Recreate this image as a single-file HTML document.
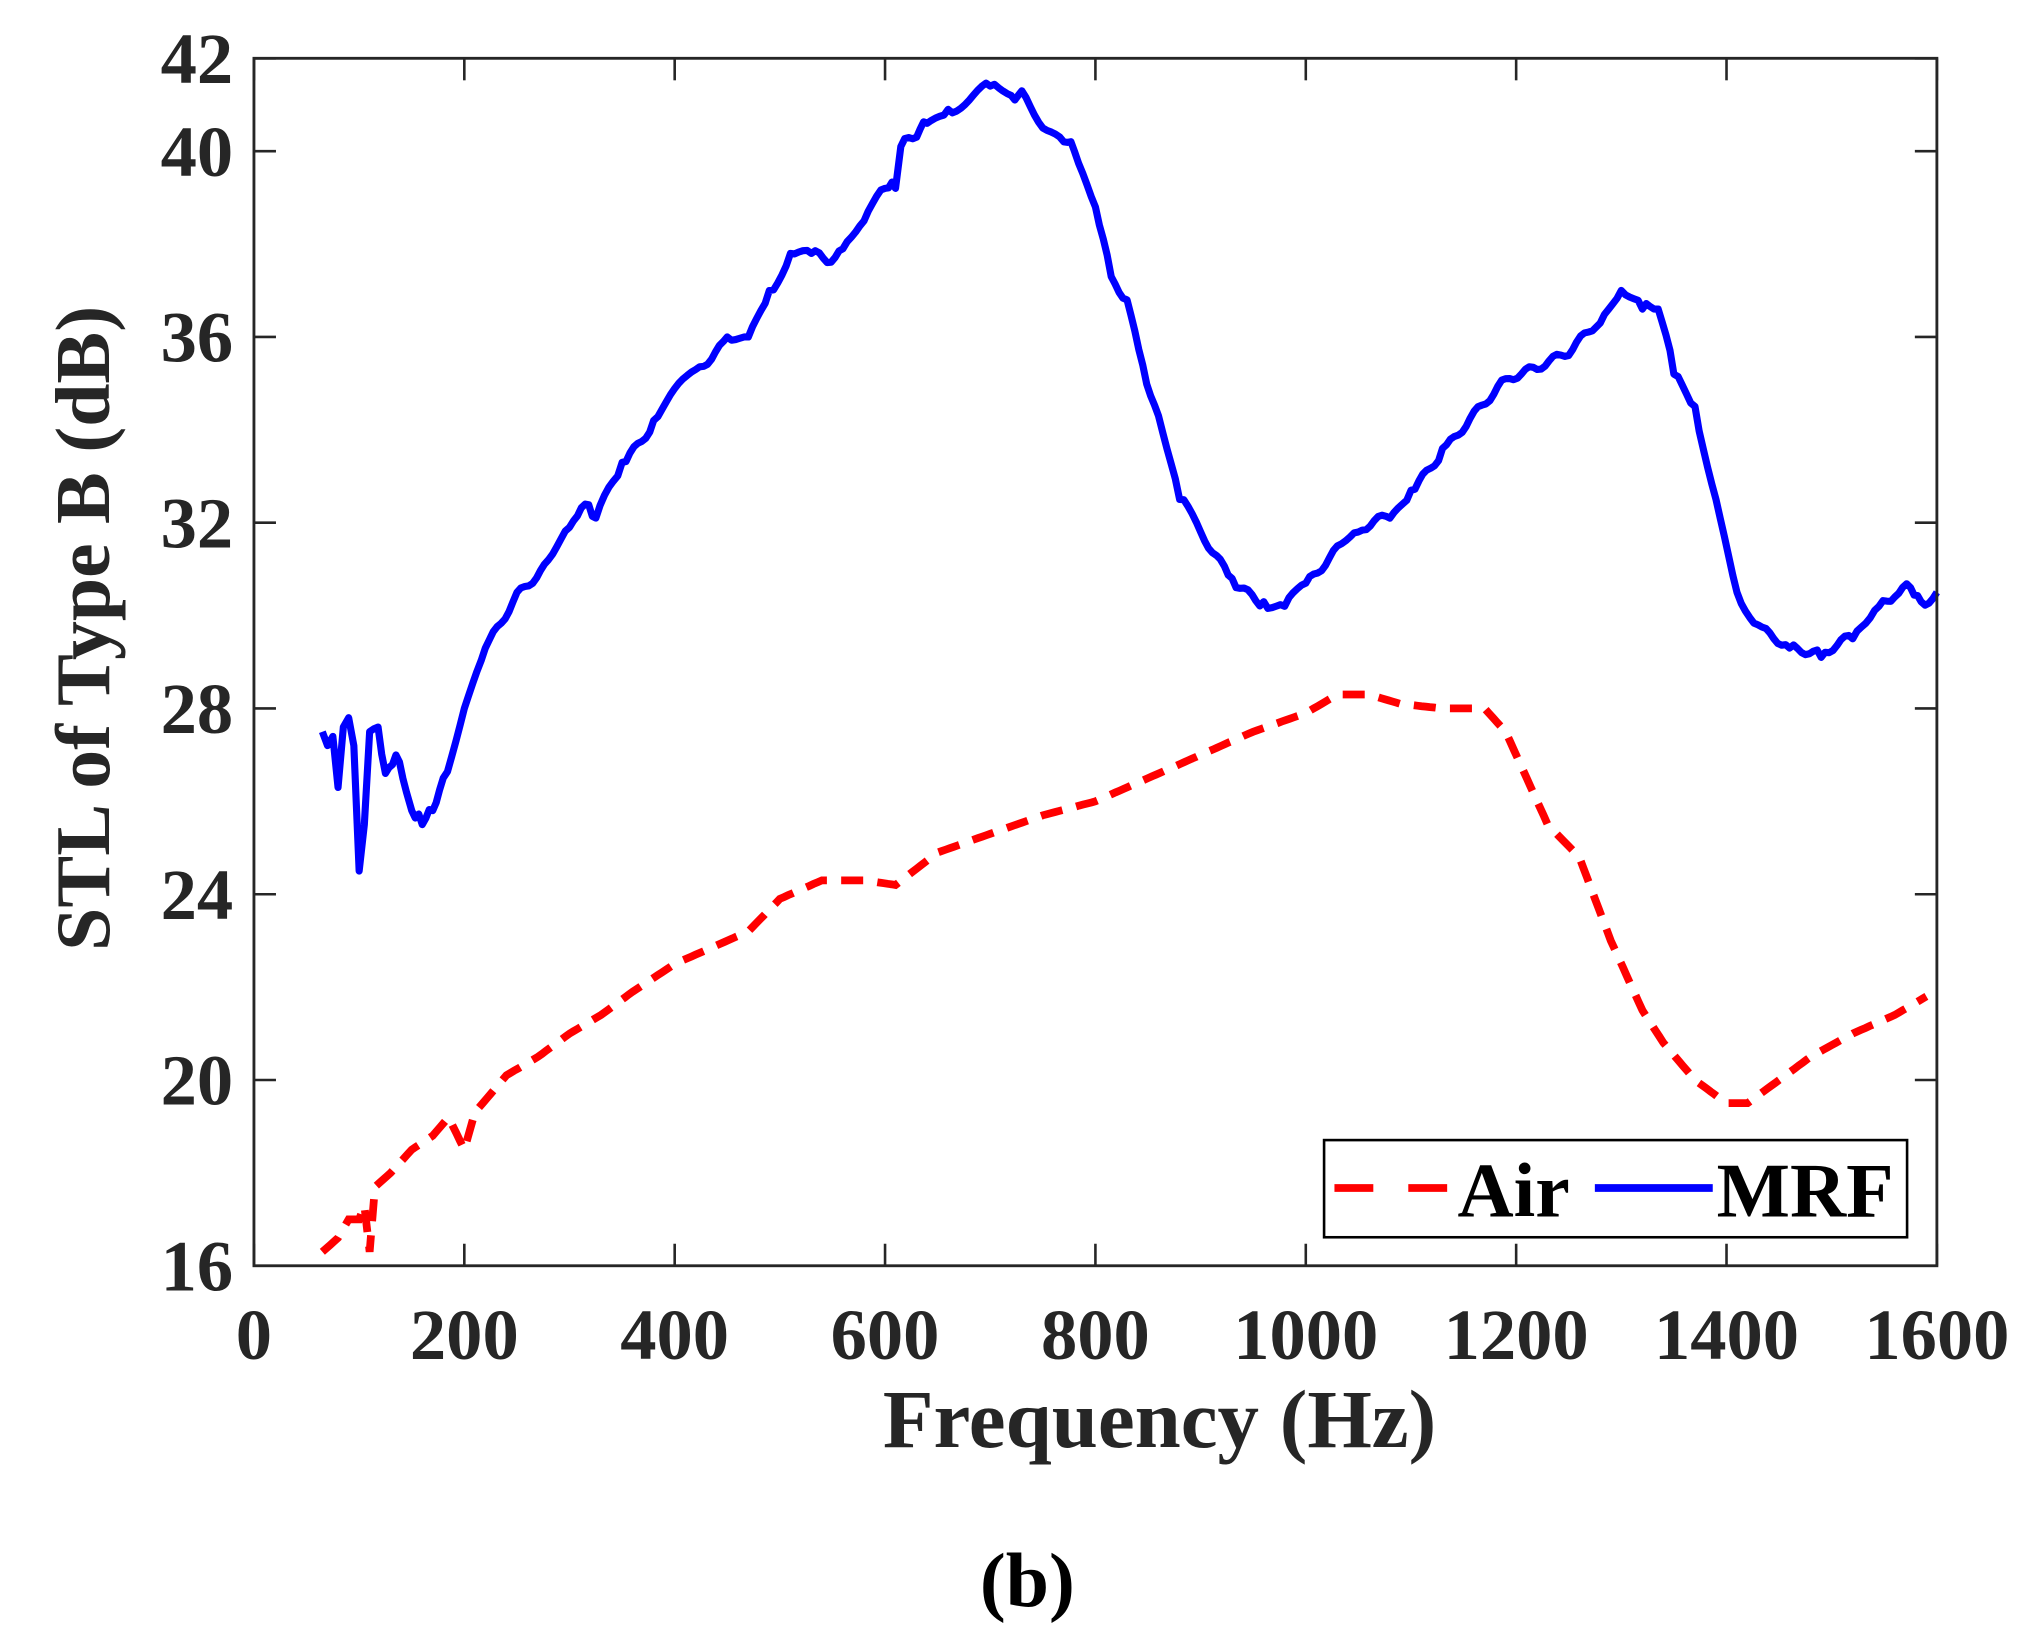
<!DOCTYPE html>
<html><head><meta charset="utf-8"><style>html,body{margin:0;padding:0;background:#fff}svg{display:block}</style></head>
<body>
<svg id="s" width="2025" height="1628" viewBox="0 0 1563 1256.6" xmlns="http://www.w3.org/2000/svg" font-family="Liberation Serif, serif" font-weight="bold">
<rect width="1563" height="1257" fill="#fff"/>
<g id="ticks" stroke="#262626" stroke-width="2"></g>
<path id="air" fill="none" stroke="#ff0000" stroke-width="6" stroke-dasharray="17,11"/>
<path id="mrf" fill="none" stroke="#0000ff" stroke-width="5.5" stroke-linejoin="round"/>
<rect x="196" y="45" width="1299" height="932" fill="none" stroke="#262626" stroke-width="2.2"/>
<g id="labels" fill="#262626" font-size="56"></g>
<text x="895" y="1117" text-anchor="middle" font-size="64" fill="#262626">Frequency (Hz)</text>
<text transform="translate(84,485) rotate(-90)" text-anchor="middle" font-size="60" fill="#262626">STL of Type B (dB)</text>
<text x="793" y="1240" text-anchor="middle" font-size="60" fill="#000">(b)</text>
<rect x="1022" y="880" width="450" height="75" fill="#fff" stroke="#000" stroke-width="2"/>
<line x1="1030" y1="917" x2="1121" y2="917" stroke="#ff0000" stroke-width="6" stroke-dasharray="30,27"/>
<text x="1125" y="939" font-size="60" fill="#000">Air</text>
<line x1="1231" y1="917" x2="1322" y2="917" stroke="#0000ff" stroke-width="6"/>
<text x="1325" y="939" font-size="60" fill="#000">MRF</text>
</svg>
<script>
var X=f=>196+f*1299/1600, Y=v=>45+(42-v)*932/26;
var mrf=[[65,27.5],[70,27.2],[75,27.4],[80,26.3],[85,27.6],[90,27.8],[95,27.2],[100,24.5],[105,25.5],[110,27.5],[118,27.6],[125,26.6],[135,27],[145,26.2],[150,25.8],[160,25.5],[170,25.8],[180,26.5],[200,28],[220,29.3],[250,30.5],[280,31.2],[300,31.9],[315,32.4],[325,32.1],[350,33.3],[380,34.2],[420,35.3],[450,36],[470,36],[490,37],[510,37.8],[530,37.8],[545,37.6],[560,37.9],[580,38.5],[600,39.2],[610,39.2],[615,40.1],[630,40.3],[640,40.6],[660,40.9],[680,41.1],[700,41.4],[720,41.2],[730,41.3],[750,40.5],[770,40.2],[780,40],[800,38.8],[815,37.3],[830,36.8],[845,35.4],[860,34.3],[880,32.5],[900,31.8],[930,30.8],[960,30.3],[980,30.2],[1000,30.7],[1030,31.5],[1050,31.8],[1080,32.1],[1100,32.7],[1130,33.6],[1160,34.4],[1190,35.1],[1220,35.3],[1250,35.6],[1280,36.3],[1300,37],[1320,36.6],[1335,36.6],[1350,35.2],[1370,34.5],[1390,32.5],[1410,30.5],[1430,29.8],[1460,29.3],[1490,29.1],[1520,29.5],[1545,30.2],[1560,30.4],[1575,30.6],[1585,30.3],[1600,30.5]];
var air=[[65,16.3],[80,16.6],[90,17],[100,17],[105,17.3],[110,16.3],[115,17.7],[130,18],[150,18.5],[170,18.8],[185,19.2],[200,18.5],[210,19.3],[240,20.1],[270,20.5],[300,21],[330,21.4],[360,21.9],[400,22.5],[440,22.9],[470,23.2],[500,23.9],[540,24.3],[580,24.3],[610,24.2],[650,24.9],[700,25.3],[750,25.7],[800,26],[850,26.5],[900,27],[950,27.5],[1000,27.9],[1030,28.3],[1060,28.3],[1090,28.1],[1130,28],[1170,28],[1190,27.5],[1210,26.5],[1230,25.5],[1260,24.8],[1290,23],[1320,21.5],[1340,20.8],[1370,20],[1400,19.5],[1420,19.5],[1450,20],[1480,20.5],[1520,21],[1560,21.4],[1590,21.8]];
function d(a){var s='';for(var i=0;i<a.length-1;i++){var p=a[i],q=a[i+1];var n=Math.max(1,Math.round((q[0]-p[0])/4));for(var k=0;k<n;k++){var t=k/n;var f=p[0]+t*(q[0]-p[0]),v=p[1]+t*(q[1]-p[1]);if(a===mrf&&k>0)v+=(Math.sin(f*1.7)+Math.sin(f*3.1))*0.08;s+=(s?'L':'M')+X(f).toFixed(1)+','+Y(v).toFixed(1);}}var l=a[a.length-1];return s+'L'+X(l[0]).toFixed(1)+','+Y(l[1]).toFixed(1);}
document.getElementById('mrf').setAttribute('d',d(mrf));
document.getElementById('air').setAttribute('d',d(air));
var T='',L='';
for(var f=0;f<=1600;f+=200){var x=X(f);T+='<line x1="'+x+'" y1="977" x2="'+x+'" y2="960"/><line x1="'+x+'" y1="45" x2="'+x+'" y2="62"/>';L+='<text x="'+x+'" y="1049" text-anchor="middle">'+f+'</text>';}
[16,20,24,28,32,36,40,42].forEach(function(v){var y=Y(v);T+='<line x1="196" y1="'+y+'" x2="213" y2="'+y+'"/><line x1="1495" y1="'+y+'" x2="1478" y2="'+y+'"/>';L+='<text x="180" y="'+(y+19)+'" text-anchor="end">'+v+'</text>';});
document.getElementById('ticks').innerHTML=T;
document.getElementById('labels').innerHTML=L;
</script>
</body></html>
